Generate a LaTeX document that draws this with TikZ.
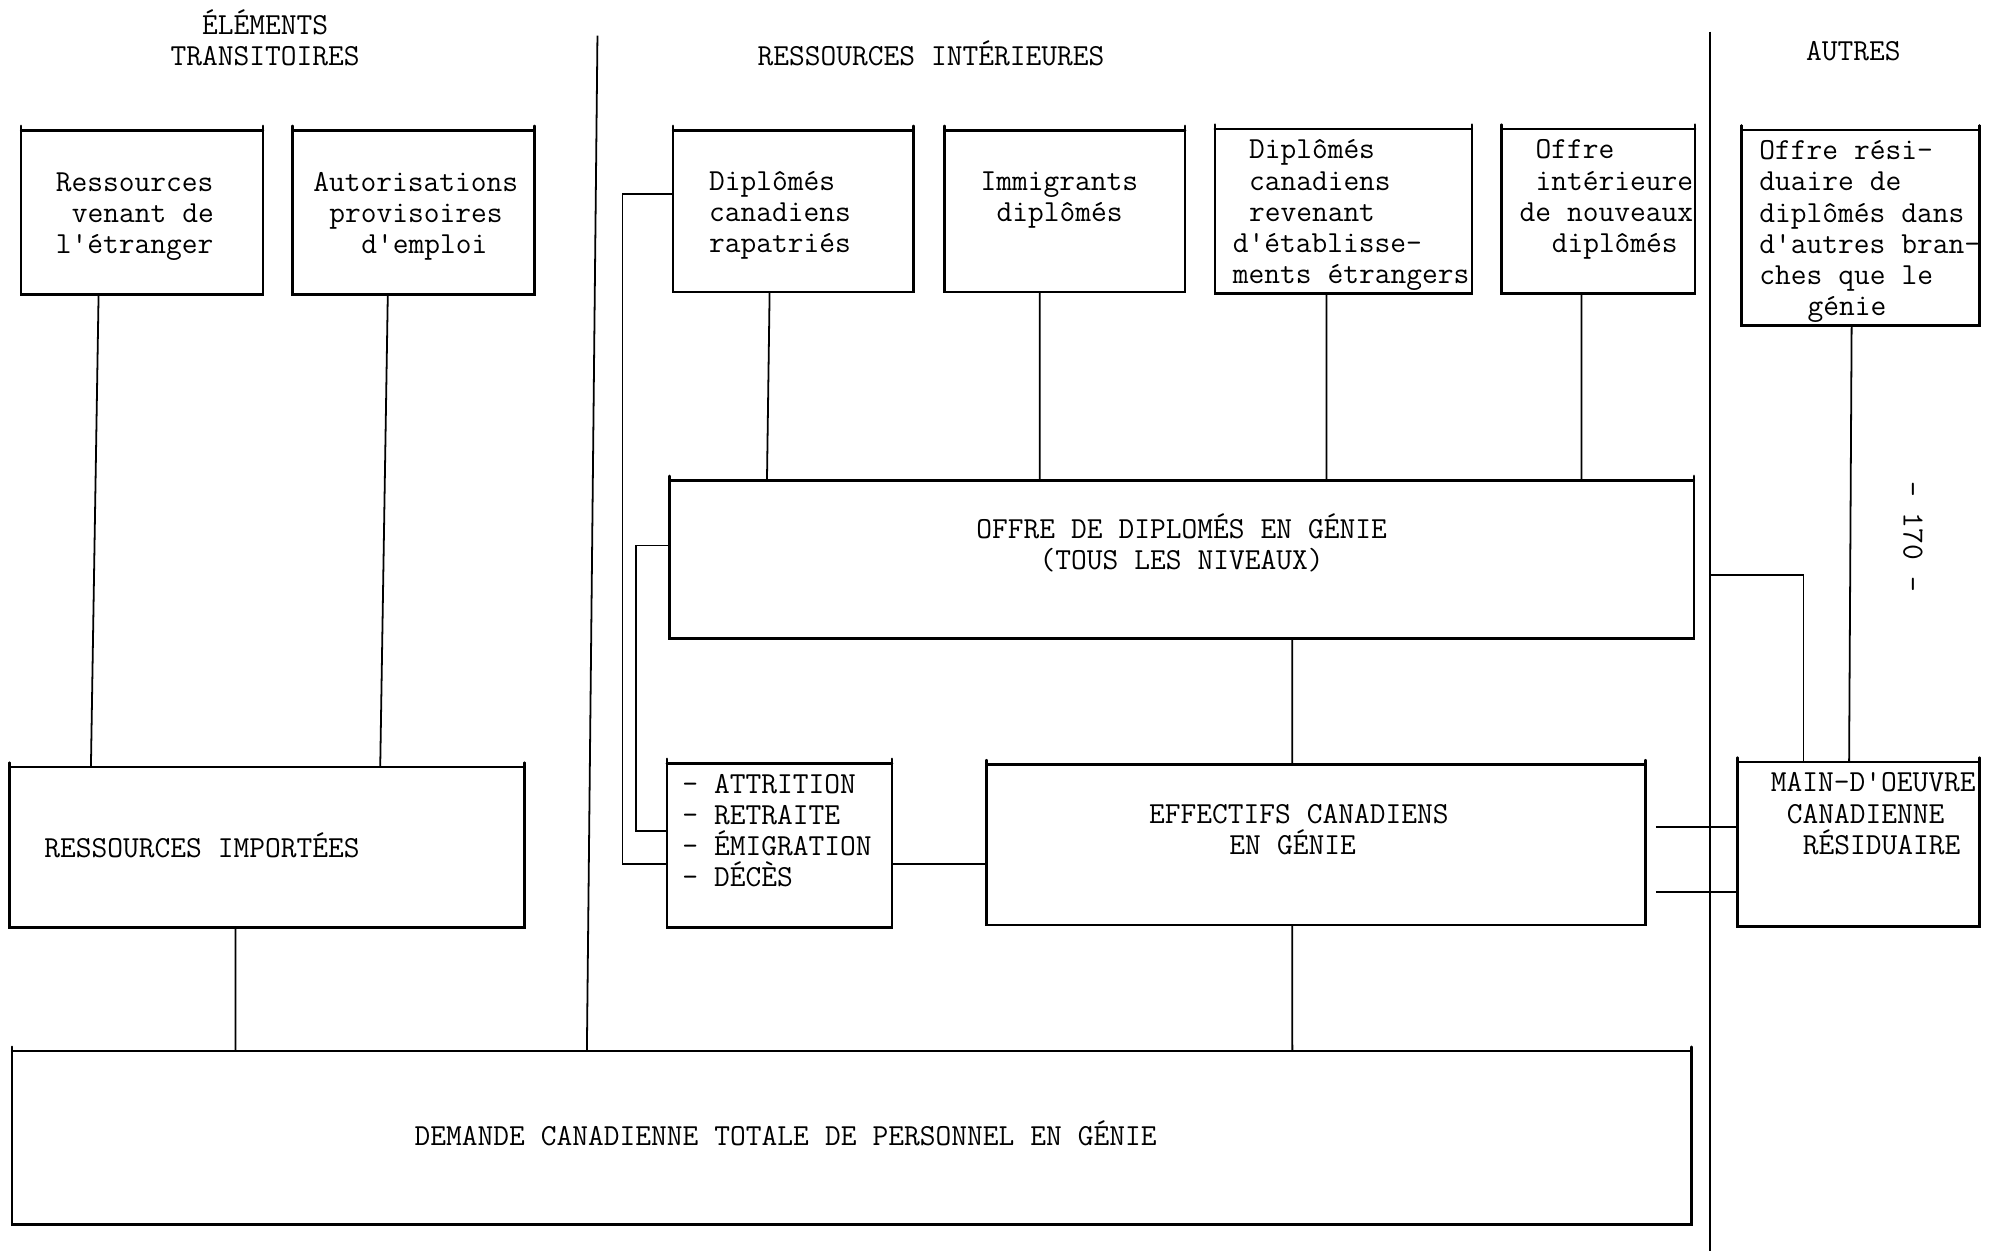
\documentclass[tikz,border=0pt]{standalone}
\usepackage{fontspec}
\hyphenpenalty=10000
\exhyphenpenalty=10000
\newcommand\tst{\rule{0pt}{16.5pt}}
\newcommand\nfont{\ttfamily\fontsize{17.143}{17.5}\selectfont}
\def~{\leavevmode\nobreak\hspace*{9pt}}
\begin{document}
\begin{tikzpicture}[x=0.025cm,y=-0.025cm,
  every node/.style={font=\nfont, inner sep=0pt},
  bx/.style={inner ysep=0pt, align=left},
  frame/.style={line width=1.4pt, line cap=round},
  wire/.style={line width=1pt}]
\useasboundingbox[fill=white] (0,0) rectangle (1568,986);

% headers
\node[align=center] (h1) at (209,30) {ÉLÉMENTS\\TRANSITOIRES};
\node (h2) at (734,42) {RESSOURCES~INTÉRIEURES};
\node (h3) at (1461,40) {AUTRES};
\node[rotate=-90] (pg) at (1508,423) {-~170~-};

% top boxes
\node[bx, minimum width=4.75cm, minimum height=3.225cm, inner xsep=0.675cm, text width=3.4cm] (b1) at (112,167.5)
  {\tst Ressources\\~venant~de\\l'étranger\strut};
\node[bx, minimum width=4.75cm, minimum height=3.225cm, inner xsep=0.4cm, text width=3.95cm] (b2) at (326,167.5)
  {\tst Autorisations\\~provisoires\\~~~d'emploi\strut};
\node[bx, minimum width=4.725cm, minimum height=3.175cm, inner xsep=0.7cm, text width=3.325cm] (b3) at (625.5,166.5)
  {\tst Diplômés\\canadiens\\rapatriés\strut};
\node[bx, minimum width=4.725cm, minimum height=3.175cm, inner xsep=0.7cm, text width=3.325cm] (b4) at (839.5,166.5)
  {\tst Immigrants\\~diplômés\\\strut};
\node[bx, minimum width=5.05cm, minimum height=3.175cm, inner xsep=0.35cm, text width=4.35cm] (b5) at (1059,166.5)
  {\tst ~Diplômés\\~canadiens\\~revenant\\d'établisse-\\ments~étrangers\strut};
\node[bx, minimum width=3.8cm, minimum height=3.175cm, inner xsep=0.35cm, text width=3.1cm] (b6) at (1260,166.5)
  {\tst ~Offre\\~intérieure\\de~nouveaux\\~~diplômés\\\strut};
\node[bx, minimum width=4.675cm, minimum height=3.825cm, inner xsep=0.35cm, text width=3.975cm] (b7) at (1466.5,179.5)
  {\tst Offre~rési-\\duaire~de\\diplômés~dans\\d'autres~bran-\\ches~que~le\\~~~génie\strut};

% middle boxes
\node[minimum width=20.175cm, minimum height=3.1cm, inner xsep=0.2cm, text width=19.775cm, align=center] (off) at (931.5,441)
  {\tst OFFRE~DE~DIPLOMÉS~EN~GÉNIE\\(TOUS~LES~NIVEAUX)\\\strut};
\node[bx, minimum width=10.125cm, minimum height=3.15cm, inner xsep=0.675cm, text width=8.775cm] (imp) at (210.5,668)
  {\tst RESSOURCES~IMPORTÉES\strut};
\node[bx, minimum width=4.425cm, minimum height=3.175cm, inner xsep=0.3cm, text width=3.825cm] (att) at (614.5,666.5)
  {\tst -~ATTRITION\\-~RETRAITE\\-~ÉMIGRATION\\-~DÉCÈS\\\strut};
\node[bx, minimum width=12.975cm, minimum height=3.15cm, inner xsep=3.2cm, text width=6.575cm] (eff) at (1037.5,666)
  {\tst EFFECTIFS~CANADIENS\\~~~~~EN~GÉNIE\\\strut};
\node[bx, minimum width=4.75cm, minimum height=3.125cm, inner xsep=0.65cm, text width=3.45cm] (mn) at (1465,665.5)
  {\tst MAIN-D'OEUVRE\\~CANADIENNE\\~~RÉSIDUAIRE\\\strut\\\strut};
\node[bx, minimum width=33.075cm, minimum height=3.4cm, inner xsep=7.925cm, text width=17.225cm] (dem) at (671.5,897)
  {\strut DEMANDE~CANADIENNE~TOTALE~DE~PERSONNEL~EN~GÉNIE\strut};

% box frames
\foreach \n in {b1,b2,b3,b4,b5,b6,b7,off,imp,att,eff,mn,dem} {
  \draw[frame] ([yshift=2.5pt]\n.north west) -- (\n.south west) -- (\n.south east) -- ([yshift=2.5pt]\n.north east);
  \draw[frame] (\n.north west) -- (\n.north east);
}

% dividers
\coordinate (dlt) at (471,28);
\coordinate (dvt) at (1348,25);
\coordinate (dvb) at (1348,986);
\draw[wire] (dlt) -- ([xshift=11.325cm]dem.north west);
\draw[wire] (dvt) -- (dvb);

% connectors
\draw[wire] ([xshift=1.525cm]b1.south west) -- ([xshift=1.6cm]imp.north west);
\draw[wire] ([xshift=1.875cm]b2.south west) -- ([xshift=7.3cm]imp.north west);
\draw[wire] ([xshift=4.45cm]imp.south west) -- ([xshift=4.4cm]dem.north west);
\draw[wire] ([xshift=1.9cm]b3.south west) -- ([xshift=1.925cm]off.north west);
\draw[wire] ([xshift=1.875cm]b4.south west) -- ([xshift=7.3cm]off.north west);
\draw[wire] ([xshift=2.2cm]b5.south west) -- ([xshift=12.95cm]off.north west);
\draw[wire] ([xshift=1.575cm]b6.south west) -- ([xshift=17.975cm]off.north west);
\draw[wire] ([xshift=2.175cm]b7.south west) -- ([xshift=2.2cm]mn.north west);
\draw[wire] ([xshift=12.275cm]off.south west) -- ([xshift=6.025cm]eff.north west);
\draw[wire] ([xshift=6.025cm]eff.south west) -- ([xshift=25.225cm]dem.north west);
\draw[wire] ([yshift=-0.3625cm]att.east) -- ([yshift=-0.375cm]eff.west);
\draw[wire] ([yshift=0.3375cm]b3.west) -- ++(-1cm,0) |- ([yshift=-0.3625cm]att.west);
\draw[wire] ([yshift=0.275cm]off.west) -- ++(-0.65cm,0) |- ([yshift=0.2875cm]att.west);
\coordinate (rj) at ([yshift=-0.3cm]off.east);
\draw[wire] (rj -| dvt) -| ([xshift=1.3cm]mn.north west);
\coordinate (q1) at ([xshift=0.2cm,yshift=0.35cm]eff.east);
\coordinate (q2) at ([xshift=0.2cm,yshift=-0.925cm]eff.east);
\draw[wire] (q1) -- (q1 -| mn.west);
\draw[wire] (q2) -- (q2 -| mn.west);
\end{tikzpicture}
\end{document}
